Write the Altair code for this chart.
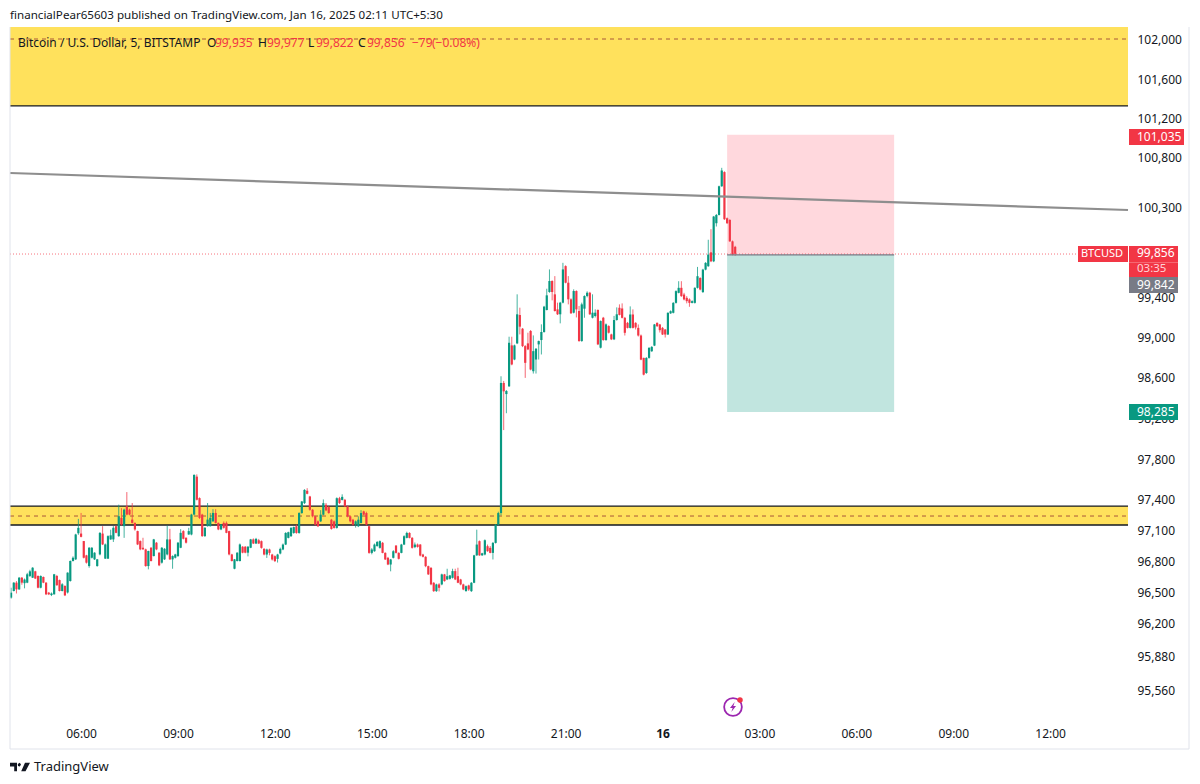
import altair as alt
import pandas as pd

FONT = "Noto Sans"
GREEN = "#089981"
RED = "#f23645"
INK = "#131722"
YELLOW = "#ffe15c"

# ---- candles (BTCUSD 5 min) ----
opens_a = [96450,96514,96595,96530,96643,96590,96595,96660,96643,96705,
96660,96546,96650,96595,96498,96475,96482,96660,96620,96514,
96563,96500,96611,96805,96821,97075,97072,96999,96860,96756,
96837,96821,96756,96869,97072,96828,96828,97015,97015,97144,
97047,97225,97144,97338,97305,97208,97176,97096,96999,96934,
96918,96756,96934,96853,96983,96886,96789,96821,96869,97015,
96821,96837,96853,96934,97096,97031,97063,97063,97257,97628,
97418,97257,97047,97144,97144,97192,97273,97176,97112,97176,
97176,97096,96869,96730,96805,96805,96944,96944,96886,96934,
97015,96975]
closes_a = [96498,96595,96530,96643,96595,96625,96676,96705,96740,96635,
96546,96660,96595,96482,96482,96490,96676,96570,96514,96579,
96472,96692,96805,96837,97063,97128,97040,96837,96789,96934,
96934,96886,96821,97079,96966,96966,97047,97055,97128,97079,
97241,97160,97305,97257,97257,97176,97112,96966,96918,96918,
96756,96902,96805,97015,96918,96763,96934,96924,97015,96821,
96853,96869,96983,97079,97021,96983,97096,97257,97645,97402,
97225,97047,97128,97208,97225,97273,97176,97112,97160,97128,
97079,96869,96805,96821,96886,96966,96886,96886,96944,97015,
96975,97020]
highs_a = [96546,96600,96610,96650,96650,96635,96690,96720,96745,96710,
96665,96665,96655,96600,96505,96500,96680,96670,96625,96590,
96570,96695,96810,96850,97070,97215,97273,97000,96865,96940,
96940,96890,96825,97085,97144,96975,97055,97110,97144,97150,
97354,97320,97315,97477,97315,97370,97180,97100,97005,97031,
96925,96905,96940,97020,96990,96890,96940,96930,97150,97118,
96860,96875,96990,97115,97105,97035,97128,97265,97650,97650,
97425,97265,97135,97370,97273,97310,97310,97180,97165,97190,
97190,97100,96875,96825,96890,96975,96950,96950,96950,97020,
97025,97030]
lows_a = [96440,96510,96490,96525,96575,96540,96590,96650,96640,96630,
96540,96540,96590,96475,96475,96465,96480,96565,96510,96510,
96465,96490,96605,96800,96815,97060,97035,96830,96780,96740,
96830,96815,96750,96860,96960,96825,96825,97010,96990,97075,
97040,97150,97030,97250,97250,97170,97100,96960,96910,96915,
96750,96724,96800,96850,96910,96755,96780,96815,96860,96815,
96730,96830,96845,96930,97015,96975,97060,97055,97250,97395,
97215,97040,97040,97140,97140,97185,97170,97105,97105,97120,
97075,96860,96800,96725,96800,96800,96880,96880,96850,96930,
96970,96970]

opens_b = [97007,96998,96923,96868,96917,96868,96852,96826,96878,96917,
96965,97030,97046,97078,97143,97078,97272,97369,97490,97434,
97304,97240,97191,97191,97256,97353,97330,97207,97191,97127,
97417,97400,97401,97337,97240,97207,97159,97143,97175,97288,
97272,97143,96884,96900,96950,96933,96982,96884,96836,96771,
96836,96955,96884,96884,96965,97030,97078,97030,96940,96965,
96965,96868,96846,96755,96739,96594,96513,96578,96578,96675,
96626,96632,96642,96707,96658,96626,96578,96513,96568,96513,
96594,96860,96998,96860,96868,96949,96933,96884,96981,97159]
closes_b = [96975,96933,96868,96917,96884,96820,96804,96868,96923,96965,
97078,97085,97127,97135,97078,97272,97385,97498,97460,97304,
97240,97159,97143,97256,97369,97298,97272,97117,97127,97417,
97369,97430,97337,97240,97191,97159,97191,97207,97272,97256,
97159,96884,96917,96965,96990,96998,96884,96820,96771,96820,
96900,96884,96826,96965,97046,97078,97030,96933,96965,96942,
96858,96846,96755,96675,96578,96513,96578,96545,96675,96610,
96658,96665,96707,96626,96594,96578,96529,96561,96529,96594,
96860,96965,96860,96880,97007,96900,96884,96981,97159,97272]
highs_b = [97020,97005,96930,96925,96925,96875,96860,96875,96935,96975,
97085,97090,97135,97140,97160,97280,97390,97505,97515,97440,
97310,97245,97200,97300,97405,97370,97340,97215,97200,97425,
97430,97455,97410,97345,97250,97215,97200,97240,97300,97295,
97285,97150,96930,96975,97000,97005,96990,96890,96845,96825,
96910,96960,96890,96972,97055,97090,97085,97038,96985,96975,
96970,96875,96852,96760,96745,96600,96585,96590,96682,96680,
96730,96670,96730,96730,96740,96632,96585,96568,96575,96600,
96865,97110,97005,96885,97015,96965,96950,96990,97165,97285]
lows_b = [96970,96925,96860,96835,96860,96810,96795,96790,96870,96910,
96960,97025,97040,97070,97070,97070,97265,97360,97455,97295,
97230,97150,97135,97185,97250,97290,97265,97110,97120,97120,
97360,97395,97330,97230,97180,97150,97130,97135,97170,97250,
97150,96875,96870,96895,96945,96925,96880,96815,96765,96705,
96830,96878,96820,96880,96960,97025,97025,96925,96930,96935,
96850,96840,96745,96670,96570,96505,96505,96510,96570,96605,
96620,96625,96635,96620,96590,96570,96522,96508,96515,96505,
96590,96855,96855,96855,96860,96895,96880,96820,96975,97150]

opens_c = [97272,98550,98440,98517,98922,98782,98942,99224,99088,98915,
98942,99065,98666,98782,98932,98975,99055,99274,99453,99563,
99430,99280,99231,99347,99712,99546,99380,99247,99463,99264,
98965,99287,99413,99446,99197,99214,99274,98899,99197,98975,
99114,99031,98982,99174]
closes_c = [98550,98467,98470,98948,98733,98922,99231,99108,98915,98749,
98882,98683,98865,98889,98965,99055,99307,99420,99563,99453,
99264,99231,99347,99679,99546,99380,99241,99463,99280,98965,
99330,99413,99446,99231,99247,99247,98932,99164,98975,99131,
99048,98982,99174,99231]
highs_c = [98616,98570,98480,99008,99008,98930,99430,99297,99095,98925,
99048,99075,99021,98895,98970,99131,99315,99486,99679,99570,
99612,99347,99355,99745,99720,99612,99390,99480,99470,99314,
99347,99420,99460,99455,99430,99280,99280,99170,99205,99140,
99122,99038,99215,99300]
lows_c = [97250,98085,98251,98510,98725,98775,98935,99031,98905,98600,
98875,98675,98643,98643,98782,98832,99048,99270,99446,99370,
99258,99224,99141,99340,99540,99330,99235,99240,99200,98958,
98958,99197,99400,99225,99190,99200,98925,98892,98968,98968,
99040,98975,98975,99168]

opens_d = [99296,99289,99196,99146,99096,99229,99146,99096,99020,98798,
98648,98798,98864,98920,99146,99130,99096,99080,99030,99240,
99246,99345,99445,99495,99428,99395,99379,99345,99345,99495,
99594,99452,99677,99711,99850,99760,100142,100225,100514,100657,
100192,100175,99960,99905]
closes_d = [99225,99196,99047,99096,99229,99096,99100,99020,98781,98632,
98798,98897,98907,99130,99113,99073,99030,99030,99246,99262,
99345,99462,99495,99412,99379,99362,99345,99362,99495,99611,
99478,99677,99744,99827,99760,100209,100225,100514,100673,100182,
100142,99960,99827,99835]
highs_d = [99330,99340,99205,99155,99310,99280,99152,99130,99030,98800,
98805,98905,98915,99135,99150,99135,99105,99085,99250,99270,
99352,99470,99561,99561,99445,99412,99390,99370,99500,99704,
99600,99685,99752,99976,100082,100215,100235,100520,100700,100665,
100200,100182,99968,99915]
lows_d = [99220,99190,99020,99090,99090,99090,99080,99010,98775,98625,
98640,98790,98858,98915,99105,99050,99025,99000,99025,99235,
99240,99338,99440,99405,99370,99340,99306,99340,99338,99488,
99470,99445,99670,99705,99752,99752,100109,100220,100508,100175,
100135,99955,99820,99815]

opens = opens_a + opens_b + opens_c + opens_d
closes = closes_a + closes_b + closes_c + closes_d
highs = highs_a + highs_b + highs_c + highs_d
lows = lows_a + lows_b + lows_c + lows_d

FIRST_BAR_HOUR = 3 + 50 / 60
BAR_HOURS = 5 / 60

# ---- axes ----
price_ticks = [102000,101600,101200,100800,100300,99400,99000,98600,98200,
               97800,97400,97100,96800,96500,96200,95880,95560]
time_ticks = [6, 9, 12, 15, 18, 21, 24, 27, 30, 33, 36]
X_DOMAIN = [3.8, 38.41]
Y_DOMAIN = [95254, 102133]

# ---- drawings ----
zone_high = [101327, 102133]
zone_high_mid = 102010
zone_low = [97155, 97340]
zone_low_mid = 97243
trend_t = [3.8, 38.41]
trend_p = [100648, 100275]
last_price_level = 99833
box_t = [26.0, 31.17]
box_stop = 101035
box_entry = 99825
box_target = 98262

xs = alt.Scale(domain=X_DOMAIN, nice=False, zero=False)
ys = alt.Scale(type="log", domain=Y_DOMAIN, nice=False, zero=False)
x_axis = alt.Axis(
    values=time_ticks, grid=False, domain=False, ticks=False, labelPadding=6,
    labelFont=FONT, labelFontSize=12, labelColor=INK, labelOverlap=False,
    labelExpr="datum.value == 24 ? '16' : format(datum.value % 24, '02d') + ':00'",
    labelFontWeight=alt.expr("datum.value == 24 ? 'bold' : 'normal'"))
y_axis = alt.Axis(
    orient="right", values=price_ticks, grid=False, domain=False, ticks=False,
    labelPadding=9, labelFont=FONT, labelFontSize=12, labelColor=INK,
    labelOverlap=False, format=",.0f")
X = lambda f="t": alt.X(f"{f}:Q", scale=xs, axis=x_axis, title=None)
Y = lambda f="p": alt.Y(f"{f}:Q", scale=ys, axis=y_axis, title=None)

candles = pd.DataFrame({
    "t": [FIRST_BAR_HOUR + i * BAR_HOURS for i in range(len(opens))],
    "o": opens, "h": highs, "l": lows, "c": closes,
})
candles["dir"] = ["up" if c >= o else "down" for o, c in zip(opens, closes)]
dir_color = alt.Color("dir:N", scale=alt.Scale(domain=["up", "down"], range=[GREEN, RED]), legend=None)


def band(lo, hi, color, t0=X_DOMAIN[0], t1=X_DOMAIN[1], opacity=1):
    d = pd.DataFrame({"t0": [t0], "t1": [t1], "lo": [lo], "hi": [hi]})
    return alt.Chart(d).mark_rect(color=color, opacity=opacity).encode(
        x=X("t0"), x2="t1:Q", y=Y("lo"), y2="hi:Q")


def level(p, color, width=1.0, dash=None, t0=X_DOMAIN[0], t1=X_DOMAIN[1], opacity=1):
    d = pd.DataFrame({"t0": [t0], "t1": [t1], "p": [p]})
    kw = {"strokeDash": dash} if dash else {}
    return alt.Chart(d).mark_rule(color=color, strokeWidth=width, opacity=opacity, **kw).encode(
        x=X("t0"), x2="t1:Q", y=Y("p"))


def page_text(text, px, py, color=INK, size=12, align="left", weight="normal"):
    d = pd.DataFrame({"s": [text]})
    return alt.Chart(d).mark_text(font=FONT, fontSize=size, color=color, align=align,
                                  baseline="middle", fontWeight=weight).encode(
        text="s:N", x=alt.value(px - 10), y=alt.value(py - 27))


def tag(px0, px1, p, color, height=16):
    d = pd.DataFrame({"p": [p]})
    return alt.Chart(d).mark_rule(color=color, strokeWidth=height).encode(
        x=alt.value(px0 - 10), x2=alt.value(px1 - 10), y=Y("p"))


def frame_rule(x0, y0, x1, y1):
    d = pd.DataFrame({"k": [0]})
    return alt.Chart(d).mark_rule(color="#e0e3eb", strokeWidth=1).encode(
        x=alt.value(x0 - 10), x2=alt.value(x1 - 10), y=alt.value(y0 - 27), y2=alt.value(y1 - 27))


def symbol(shape, px, py, size, fill=None, stroke=None, sw=0):
    d = pd.DataFrame({"k": [0]})
    kw = {"fill": fill, "filled": True} if fill else {"filled": False}
    if stroke:
        kw["stroke"] = stroke
        kw["strokeWidth"] = sw
    return alt.Chart(d).mark_point(shape=shape, size=size, opacity=1, **kw).encode(
        x=alt.value(px - 10), y=alt.value(py - 27))


wicks = alt.Chart(candles).mark_rule(strokeWidth=1, opacity=0.75).encode(
    x=X(), y=Y("l"), y2="h:Q", color=dir_color)
bodies = alt.Chart(candles).mark_rule(strokeWidth=2.2).encode(
    x=X(), y=Y("o"), y2="c:Q", color=dir_color)

trend = alt.Chart(pd.DataFrame({"t": trend_t, "p": trend_p})).mark_line(
    color="#8e8e8e", strokeWidth=2.2).encode(x=X(), y=Y())

LOGO = "M-1,-0.42L-0.3,-0.42L-0.3,0.42L-0.58,0.42L-0.58,-0.05L-1,-0.05Z" \
       "M-0.22,-0.3L-0.02,-0.42L0.1,-0.25L-0.02,-0.05L-0.2,-0.1Z" \
       "M0.12,0.42L0.5,-0.42L1,-0.42L0.55,0.42Z"
BOLT = "M0.25,-0.75L-0.45,0.15L-0.05,0.15L-0.25,0.75L0.45,-0.15L0.05,-0.15Z"

chart = alt.layer(
    band(zone_high[0], zone_high[1], YELLOW),
    band(zone_low[0], zone_low[1], YELLOW),
    level(zone_high[0], INK, 1.2),
    level(zone_low[0], INK, 1.4),
    level(zone_low[1], INK, 1.4),
    level(zone_high_mid, "#a8583a", 1, [4, 4]),
    level(zone_low_mid, "#a8583a", 1, [4, 4]),
    level(last_price_level, RED, 1, [1, 2], opacity=0.7),
    band(box_entry, box_stop, "#ff3b57", box_t[0], box_t[1], 0.2),
    band(box_target, box_entry, GREEN, box_t[0], box_t[1], 0.25),
    wicks,
    bodies,
    level(box_entry, "#787b86", 1.2, None, box_t[0], box_t[1]),
    trend,
    frame_rule(10, 27, 10, 749),
    frame_rule(10, 749, 1189, 749),
    frame_rule(1189, 27, 1189, 749),
    tag(1129, 1184, 101011, RED),
    tag(1078, 1128, last_price_level, RED),
    tag(1129, 1178, last_price_level, RED),
    tag(1129, 1178, 99670, RED, 16),
    tag(1129, 1178, 99523, "#787b86"),
    tag(1129, 1178, box_target, GREEN),
    page_text("101,035", 1137, 137, "#ffffff"),
    page_text("BTCUSD", 1102, 254, "#ffffff", align="center", size=11),
    page_text("99,856", 1137, 253, "#ffffff"),
    page_text("03:35", 1137, 269, "#ffd3d7", size=11.5),
    page_text("99,842", 1137, 285, "#ffffff"),
    page_text("98,285", 1137, 412, "#ffffff"),
    page_text("financialPear65603 published on TradingView.com, Jan 16, 2025 02:11 UTC+5:30", 10, 16, size=11.6),
    page_text("Bitcoin / U.S. Dollar, 5, BITSTAMP", 18, 43),
    page_text("O", 207, 43),
    page_text("99,935", 215, 43, RED),
    page_text("H", 258, 43),
    page_text("99,977", 267, 43, RED),
    page_text("L", 308, 43),
    page_text("99,822", 316, 43, RED),
    page_text("C", 358, 43),
    page_text("99,856", 367, 43, RED),
    page_text("−79", 412, 43, RED),
    page_text("(−0.08%)", 432, 43, RED),
    symbol("circle", 733, 707, 314, stroke="#9c27b0", sw=1.8),
    symbol(BOLT, 733, 707, 180, fill="#9c27b0"),
    symbol("circle", 740, 700, 30, fill=RED),
    symbol(LOGO, 20, 767, 400, fill=INK),
    page_text("TradingView", 34, 767, INK, size=13),
).properties(
    width=1118, height=695,
    padding={"left": 2, "top": 19, "right": 64, "bottom": 54},
    autosize=alt.AutoSizeParams(type="none"),
    background="#ffffff",
).configure_view(stroke=None)

chart.save("out.html", embed_options={"renderer": "svg", "actions": False})
